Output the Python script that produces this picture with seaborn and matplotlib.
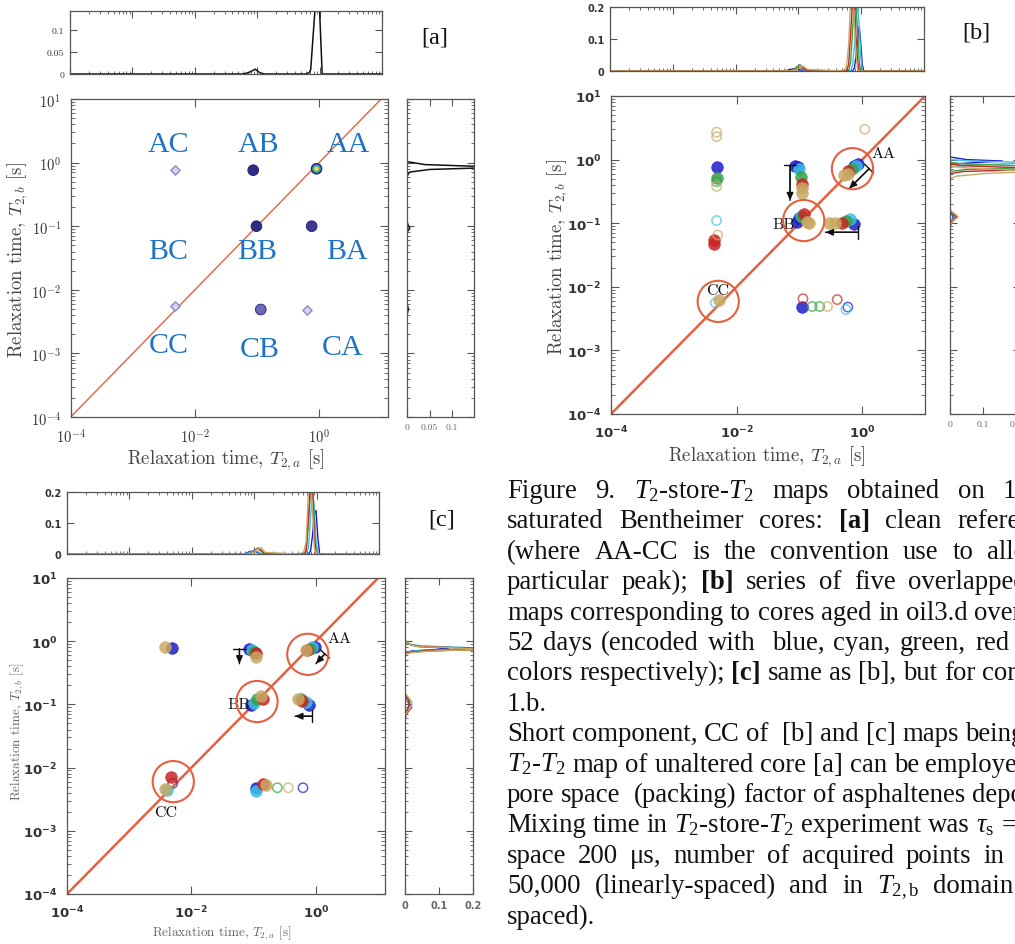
import numpy as np
import pandas as pd
import matplotlib
matplotlib.use("Agg")
import matplotlib.pyplot as plt
from matplotlib.ticker import FixedLocator, LogLocator, NullLocator, NullFormatter, FuncFormatter
import seaborn as sns

W, H = 1015, 945

# ---------------- data ----------------
# five ageing stages: blue, cyan, green, red, yellow
codes = ["b", "c", "g", "r", "y"]
pal = {"b": "#1d1dc8", "c": "#3cc2e6", "g": "#36a244", "r": "#c82424", "y": "#c9a964"}
diag = [1e-4, 1e1]

# [a] clean reference core
a_peak = ["AC", "AB", "AA", "BB", "BA", "CC", "CB", "CA"]
a_t2a = [4.8e-3, 0.087, 0.91, 0.098, 0.76, 4.8e-3, 0.115, 0.63]
a_t2b = [0.76, 0.76, 0.80, 0.10, 0.10, 5.6e-3, 4.9e-3, 4.9e-3]
a_amp = [0.3, 0.75, 1.0, 0.75, 0.7, 0.15, 0.5, 0.3]
a_region = ["AC", "AB", "AA", "BC", "BB", "BA", "CC", "CB", "CA"]

a_top_t2 = [1e-4, 0.06, 0.075, 0.093, 0.11, 0.13, 0.6, 0.68, 0.72, 0.84, 0.9, 0.96, 1.0, 1.1, 10]
a_top_amp = [0, 0, 0.004, 0.011, 0.003, 0, 0, 0.003, 0.01, 0.144, 0.25, 0.2, 0.144, 0, 0]
a_right_t2 = [1e-4, 4e-3, 5e-3, 6e-3, 0.08, 0.095, 0.105, 0.12, 0.6, 0.65, 0.71, 0.78, 0.82, 0.85,
              0.875, 0.93, 1.0, 1.03, 1.08, 10]
a_right_amp = [0, 0, 0.003, 0, 0, 0.006, 0.002, 0, 0, 0.002, 0.006, 0.05, 0.15, 0.3,
               0.15, 0.04, 0.013, 0.002, 0, 0]

# [b] cores aged in oil3.d
b_code = ["y", "y", "b", "g", "g", "y", "c", "y", "r", "r",
          "b", "b", "c", "g", "r", "y", "y",
          "b", "b", "c", "g", "r", "y", "y",
          "b", "b", "c", "g", "r", "y", "y",
          "y", "y", "r", "g", "c", "b",
          "y", "c", "y",
          "r", "b", "g", "g", "y", "r", "b", "c"]
b_t2a = [4.8e-3, 4.8e-3, 4.8e-3, 4.8e-3, 4.8e-3, 4.8e-3, 4.8e-3, 5.0e-3, 4.3e-3, 4.3e-3,
         0.085, 0.095, 0.1, 0.105, 0.11, 0.11, 0.11,
         0.85, 0.75, 0.8, 0.68, 0.6, 0.52, 0.6,
         0.09, 0.1, 0.105, 0.11, 0.12, 0.13, 0.14,
         0.3, 0.37, 0.48, 0.55, 0.65, 0.75,
         1.1, 4.6e-3, 5.3e-3,
         0.114, 0.11, 0.16, 0.21, 0.28, 0.4, 0.59, 0.55]
b_t2b = [2.7, 2.3, 0.76, 0.52, 0.45, 0.38, 0.11, 0.065, 0.055, 0.047,
         0.78, 0.76, 0.72, 0.53, 0.42, 0.36, 0.3,
         0.85, 0.8, 0.78, 0.72, 0.65, 0.57, 0.6,
         0.105, 0.12, 0.13, 0.125, 0.14, 0.105, 0.1,
         0.1, 0.1, 0.1, 0.11, 0.115, 0.098,
         3.0, 5.6e-3, 6.2e-3,
         6.5e-3, 4.8e-3, 4.9e-3, 4.9e-3, 4.9e-3, 6.3e-3, 4.8e-3, 4.4e-3]
b_amp = [0.3, 0.3, 1, 1, 0.3, 0.3, 0.3, 0.3, 1, 1,
         1, 1, 1, 1, 1, 1, 1,
         1, 1, 1, 1, 1, 1, 1,
         1, 1, 1, 1, 1, 1, 1,
         1, 1, 1, 1, 1, 1,
         0.3, 0.3, 0.6,
         0.3, 1, 0.3, 0.3, 0.3, 0.3, 0.3, 0.3]
b_circ_t2a = [0.70, 0.117, 5.1e-3]
b_circ_t2b = [0.72, 0.11, 5.9e-3]

b_top_t2 = [1e-4, 0.06, 0.075, 0.09, 0.105, 0.12, 0.14, 0.5, 0.58, 0.63, 0.68, 0.73, 0.78, 0.83,
            0.88, 0.93, 0.98, 1.04, 1.1, 10]
b_top_blue = [0, 0, 0.005, 0.008, 0.004, 0, 0, 0, 0, 0, 0, 0, 0.01, 0.05, 0.1, 0.14, 0.09, 0.02, 0, 0]
b_top_cyan = [0, 0, 0, 0.006, 0.01, 0.004, 0, 0, 0, 0, 0, 0.02, 0.08, 0.17, 0.21, 0.14, 0.05, 0, 0, 0]
b_top_green = [0, 0, 0, 0.01, 0.02, 0.01, 0, 0, 0, 0, 0.03, 0.13, 0.22, 0.2, 0.12, 0.03, 0, 0, 0, 0]
b_top_red = [0, 0, 0, 0.005, 0.012, 0.008, 0, 0, 0, 0.02, 0.12, 0.22, 0.22, 0.1, 0.03, 0, 0, 0, 0, 0]
b_top_yellow = [0, 0, 0, 0.004, 0.01, 0.015, 0.005, 0, 0.01, 0.08, 0.22, 0.25, 0.15, 0.05, 0, 0, 0, 0, 0, 0]

b_right_t2 = [1e-4, 0.09, 0.11, 0.125, 0.14, 0.16, 0.4, 0.5, 0.55, 0.6, 0.65, 0.7, 0.75, 0.8,
              0.85, 0.9, 0.95, 1.0, 1.1, 10]
b_right_blue = [0, 0, 0.005, 0.01, 0.005, 0, 0, 0, 0, 0, 0, 0, 0, 0, 0.01, 0.08, 0.16, 0.05, 0, 0]
b_right_cyan = [0, 0, 0.005, 0.015, 0.008, 0, 0, 0, 0, 0, 0, 0, 0, 0.03, 0.15, 0.25, 0.06, 0, 0, 0]
b_right_green = [0, 0, 0.01, 0.02, 0.01, 0, 0, 0, 0, 0, 0, 0.05, 0.25, 0.22, 0.05, 0, 0, 0, 0, 0]
b_right_red = [0, 0, 0.008, 0.02, 0.01, 0, 0, 0, 0, 0, 0.04, 0.25, 0.2, 0.04, 0, 0, 0, 0, 0, 0]
b_right_yellow = [0, 0, 0.01, 0.025, 0.015, 0, 0, 0, 0.02, 0.1, 0.25, 0.15, 0.03, 0, 0, 0, 0, 0, 0, 0]

# [c] cores of the second series
c_code = ["y", "b",
          "b", "c", "g", "r", "y",
          "b", "c", "g", "r", "y",
          "b", "c", "g", "r", "y",
          "y", "g", "r", "c", "b",
          "r", "y", "c", "b",
          "b", "c", "r", "y", "g", "y", "b"]
c_t2a = [3.7e-3, 4.8e-3,
         0.085, 0.095, 0.1, 0.11, 0.11,
         0.96, 0.88, 0.8, 0.72, 0.68,
         0.09, 0.1, 0.115, 0.14, 0.13,
         0.52, 0.57, 0.6, 0.68, 0.78,
         4.7e-3, 3.7e-3, 4.0e-3, 5.0e-3,
         0.11, 0.11, 0.14, 0.16, 0.24, 0.36, 0.62]
c_t2b = [0.8, 0.77,
         0.76, 0.72, 0.68, 0.64, 0.57,
         0.82, 0.8, 0.76, 0.72, 0.72,
         0.097, 0.105, 0.12, 0.12, 0.135,
         0.12, 0.12, 0.115, 0.11, 0.097,
         7.2e-3, 4.6e-3, 4.4e-3, 5.6e-3,
         4.8e-3, 4.3e-3, 5.6e-3, 5.3e-3, 4.8e-3, 4.8e-3, 4.8e-3]
c_amp = [0.6, 1,
         1, 1, 1, 1, 1,
         1, 1, 1, 1, 1,
         1, 1, 1, 1, 1,
         1, 1, 1, 1, 1,
         1, 0.6, 0.6, 0.3,
         1, 1, 1, 1, 0.3, 0.3, 0.3]
c_circ_t2a = [0.74, 0.113, 5.1e-3]
c_circ_t2b = [0.62, 0.111, 6.0e-3]

c_top_t2 = [1e-4, 0.07, 0.085, 0.1, 0.115, 0.13, 0.15, 0.5, 0.62, 0.68, 0.74, 0.8, 0.86, 0.92,
            0.98, 1.05, 1.12, 1.2, 10]
c_top_blue = [0, 0, 0.008, 0.01, 0.004, 0, 0, 0, 0, 0, 0, 0.01, 0.06, 0.13, 0.14, 0.05, 0, 0, 0]
c_top_cyan = [0, 0, 0.005, 0.012, 0.008, 0, 0, 0, 0, 0, 0.02, 0.12, 0.2, 0.15, 0.04, 0, 0, 0, 0]
c_top_green = [0, 0, 0, 0.01, 0.018, 0.008, 0, 0, 0, 0.01, 0.1, 0.22, 0.23, 0.1, 0, 0, 0, 0, 0]
c_top_red = [0, 0, 0, 0.008, 0.02, 0.012, 0, 0, 0, 0.01, 0.12, 0.22, 0.2, 0.05, 0, 0, 0, 0, 0]
c_top_yellow = [0, 0, 0, 0.006, 0.018, 0.02, 0.005, 0, 0.005, 0.04, 0.2, 0.24, 0.15, 0.02, 0, 0, 0, 0, 0]

c_right_t2 = [1e-4, 0.06, 0.075, 0.09, 0.11, 0.13, 0.15, 0.5, 0.62, 0.66, 0.7, 0.74, 0.78, 0.82,
              0.87, 0.93, 0.98, 1.05, 10]
c_right_blue = [0, 0, 0.008, 0.02, 0.008, 0, 0, 0, 0, 0, 0.02, 0.09, 0.13, 0.06, 0.02, 0.005, 0, 0, 0]
c_right_cyan = [0, 0, 0.005, 0.012, 0.01, 0, 0, 0, 0, 0, 0.03, 0.15, 0.22, 0.1, 0.02, 0.005, 0, 0, 0]
c_right_green = [0, 0, 0.004, 0.01, 0.015, 0.005, 0, 0, 0, 0.01, 0.05, 0.22, 0.2, 0.05, 0.02, 0.01, 0.005, 0, 0]
c_right_red = [0, 0, 0.004, 0.01, 0.012, 0.006, 0, 0, 0, 0.01, 0.06, 0.22, 0.18, 0.04, 0.02, 0.01, 0, 0, 0]
c_right_yellow = [0, 0, 0.006, 0.018, 0.02, 0.01, 0, 0, 0, 0.02, 0.08, 0.22, 0.16, 0.04, 0.02, 0.01, 0, 0, 0]

# caption lines; number = x where the last word of a justified line starts
caption = [
    ("Figure 9. $T_2$-store-$T_2$ maps obtained on 1", 1003),
    ("saturated Bentheimer cores: **[a]** clean reference", 957),
    ("(where AA-CC is the convention use to allocate", 987),
    ("particular peak); **[b]** series of five overlapped", 908),
    ("maps corresponding to cores aged in oil3.d over", None),
    ("52 days (encoded with  blue, cyan, green, red", 975),
    ("colors respectively); **[c]** same as [b], but for cores", None),
    ("1.b.", None),
    ("Short component, CC of  [b] and [c] maps being", None),
    ("$T_2$-$T_2$ map of unaltered core [a] can be employed", None),
    ("pore space  (packing) factor of asphaltenes deposit", None),
    ("Mixing time in $T_2$-store-$T_2$ experiment was $\\tau_\\mathrm{s}$ = 1", None),
    ("space 200 \u03bcs, number of acquired points in", 983),
    ("50,000 (linearly-spaced) and in $T_\\mathrm{2,b}$ domain", 933),
    ("spaced).", None),
]

# ---------------- style ----------------
sns.set_style("ticks")
plt.rcParams["font.family"] = ["DejaVu Sans"]
plt.rcParams["mathtext.fontset"] = "cm"
plt.rcParams["mathtext.rm"] = "Liberation Serif"
plt.rcParams["mathtext.it"] = "Liberation Serif:italic"
plt.rcParams["mathtext.bf"] = "Liberation Serif:bold"
plt.rcParams["axes.edgecolor"] = "#555555"
plt.rcParams["axes.linewidth"] = 0.9
plt.rcParams["xtick.color"] = "#555555"
plt.rcParams["ytick.color"] = "#555555"

DIAG = "#e5603f"
fig = plt.figure(figsize=(W / 100, H / 100), dpi=100)


def px_axes(l, t, r, b):
    return fig.add_axes([l / W, 1 - b / H, (r - l) / W, (b - t) / H])


def log_fmt(sans):
    if sans:
        return FuncFormatter(lambda v, p: r"$\mathdefault{10^{%d}}$" % round(np.log10(v)))
    return FuncFormatter(lambda v, p: r"$10^{%d}$" % round(np.log10(v)))


def minor_loc():
    return LogLocator(base=10, subs=np.arange(2, 10), numticks=30)


def style_main(ax, xmax, sans, fs):
    ax.set(xscale="log", yscale="log", xlim=(1e-4, xmax), ylim=(1e-4, 1e1))
    ax.xaxis.set_major_locator(FixedLocator([1e-4, 1e-2, 1e0]))
    ax.xaxis.set_minor_locator(NullLocator())
    ax.yaxis.set_major_locator(FixedLocator([1e-4, 1e-3, 1e-2, 1e-1, 1e0, 1e1]))
    ax.yaxis.set_minor_locator(minor_loc())
    ax.yaxis.set_minor_formatter(NullFormatter())
    ax.xaxis.set_major_formatter(log_fmt(sans))
    ax.yaxis.set_major_formatter(log_fmt(sans))
    ax.tick_params(which="both", direction="in", top=True, right=True)
    ax.tick_params(which="major", length=6, labelsize=fs, pad=7, labelcolor="#333333")
    ax.tick_params(which="minor", length=3)
    if sans:
        plt.setp(ax.get_xticklabels() + ax.get_yticklabels(), fontweight="bold")


def style_top(ax, ymax, ticks, labels, font):
    ax.set(xscale="log", xlim=(1e-4, 1e1), ylim=(0, ymax), xlabel="", ylabel="")
    ax.xaxis.set_major_locator(FixedLocator([1e-4, 1e-3, 1e-2, 1e-1, 1e0, 1e1]))
    ax.xaxis.set_minor_locator(minor_loc())
    ax.xaxis.set_major_formatter(NullFormatter())
    ax.xaxis.set_minor_formatter(NullFormatter())
    ax.set_yticks(ticks)
    ax.set_yticklabels(labels, **font)
    ax.tick_params(which="both", direction="in", top=True, right=True)
    ax.tick_params(which="major", length=5, labelsize=7, pad=4, labelcolor="#333333")
    ax.tick_params(which="minor", length=2.5)


def style_right(ax, xmax, ticks, labels, font):
    ax.set(yscale="log", ylim=(1e-4, 1e1), xlim=(0, xmax), xlabel="", ylabel="")
    ax.yaxis.set_major_locator(FixedLocator([1e-4, 1e-3, 1e-2, 1e-1, 1e0, 1e1]))
    ax.yaxis.set_minor_locator(minor_loc())
    ax.yaxis.set_major_formatter(NullFormatter())
    ax.yaxis.set_minor_formatter(NullFormatter())
    ax.set_xticks(ticks)
    ax.set_xticklabels(labels, **font)
    ax.tick_params(which="both", direction="in", top=True, right=True)
    ax.tick_params(which="major", length=5, labelsize=7, pad=4, labelcolor="#666666")
    ax.tick_params(which="minor", length=2.5)


def spectra(t2, curves):
    rows = []
    for code, vals in zip(codes, curves):
        rows.append(pd.DataFrame({"t2": t2, "amp": vals, "series": code}))
    return pd.concat(rows, ignore_index=True)


def draw_map(ax, df, circ_x, circ_y):
    sns.lineplot(x=diag, y=diag, color=DIAG, lw=1.8, ax=ax)
    for code in codes:
        sub = df[df.series == code]
        solid = sub[sub.amp >= 0.5]
        faint = sub[sub.amp < 0.5]
        if len(solid):
            sns.scatterplot(data=solid, x="t2a", y="t2b", color=pal[code], s=70, marker="o",
                            edgecolor=pal[code], linewidth=0.5, alpha=0.85, ax=ax, zorder=3)
        if len(faint):
            sns.scatterplot(data=faint, x="t2a", y="t2b", color=pal[code], facecolor="none",
                            edgecolor=pal[code], s=45, marker="o", linewidth=1.1, alpha=0.7,
                            ax=ax, zorder=3)
    sns.scatterplot(x=circ_x, y=circ_y, s=880, marker="o", facecolor="none", color=DIAG,
                    edgecolor=DIAG, linewidth=1.5, ax=ax, zorder=4)


def arrow(ax, tail, head):
    ax.annotate("", xy=head, xytext=tail,
                arrowprops=dict(arrowstyle="-|>,head_length=0.45,head_width=0.2",
                                color="#111111", lw=1.0, shrinkA=0, shrinkB=0))
    ax.annotate("", xy=head, xytext=tail,
                arrowprops=dict(arrowstyle="]-,widthA=0.45,lengthA=0",
                                color="#111111", lw=1.0, shrinkA=0, shrinkB=0))


def axis_labels(ax, fs, xc, yc, color):
    ax.set_xlabel(r"Relaxation time, $T_{2,a}$ [s]", fontfamily="cmr10", fontsize=fs, color=color)
    ax.set_ylabel(r"Relaxation time, $T_{2,b}$ [s]", fontfamily="cmr10", fontsize=fs, color=color)
    ax.xaxis.set_label_coords(*xc)
    ax.yaxis.set_label_coords(*yc)
    ax.xaxis.label.set_va("center")
    ax.yaxis.label.set_va("center")


cm_font = dict(fontfamily="cmr10")
sans_font = dict(fontfamily="DejaVu Sans", fontweight="bold")

# ================= [a] =================
ax = px_axes(70.7, 100, 388, 418)
a_df = pd.DataFrame({"peak": a_peak, "t2a": a_t2a, "t2b": a_t2b, "amp": a_amp})
sns.lineplot(x=diag, y=diag, color=DIAG, lw=1.0, ax=ax)
cmap = sns.blend_palette(["#d4d2f0", "#8583c8", "#23207c"], as_cmap=True)
strong = a_df[a_df.amp >= 0.35]
weak = a_df[a_df.amp < 0.35]
sns.scatterplot(data=strong, x="t2a", y="t2b", hue="amp", palette=cmap, hue_norm=(0, 0.8),
                s=60, marker="o", edgecolor="#23207c", linewidth=0.6, legend=False, ax=ax, zorder=3)
sns.scatterplot(data=weak, x="t2a", y="t2b", color="#8a88c8", facecolor="#d8d6f2",
                edgecolor="#8a88c8", s=22, marker="D", linewidth=1.0, ax=ax, zorder=3)
top = a_df[a_df.amp >= 0.95]
sns.scatterplot(data=top, x="t2a", y="t2b", color="#2f9fb8", s=40, edgecolor="none", ax=ax, zorder=4)
sns.scatterplot(data=top, x="t2a", y="t2b", color="#e6dc3a", s=12, edgecolor="none", ax=ax, zorder=5)
style_main(ax, 10 ** 1.11, False, 10.5)
axis_labels(ax, 13.5, (0.49, -0.132), (-0.166, 0.497), "#444444")
region_xy = [(0.308, 0.859), (0.592, 0.859), (0.876, 0.859),
             (0.308, 0.521), (0.587, 0.521), (0.871, 0.521),
             (0.308, 0.225), (0.595, 0.213), (0.858, 0.220)]
for lab, (rx, ry) in zip(a_region, region_xy):
    ax.text(rx, ry, lab, transform=ax.transAxes, ha="center", va="center",
            fontsize=21.5, family="Liberation Serif", color="#1f73c3")

ax = px_axes(70, 12, 382, 75)
sns.lineplot(x=a_top_t2, y=a_top_amp, sort=False, estimator=None, color="#111111", lw=1.1, ax=ax)
style_top(ax, 0.144, [0, 0.05, 0.1], ["0", "0.05", "0.1"], cm_font)

ax = px_axes(407, 100, 474, 418)
sns.lineplot(x=a_right_amp, y=a_right_t2, sort=False, estimator=None, color="#111111", lw=1.1, ax=ax)
style_right(ax, 0.148, [0, 0.05, 0.1], ["0", "0.05", "0.1"], cm_font)

# ================= [b] =================
ax = px_axes(611, 97, 925, 415)
b_df = pd.DataFrame({"series": b_code, "t2a": b_t2a, "t2b": b_t2b, "amp": b_amp})
draw_map(ax, b_df, b_circ_t2a, b_circ_t2b)
style_main(ax, 1e1, True, 9.5)
axis_labels(ax, 13.5, (0.497, -0.132), (-0.169, 0.497), "#444444")
arrow(ax, (0.071, 0.81), (0.071, 0.228))
arrow(ax, (0.87, 0.072), (0.26, 0.072))
arrow(ax, (1.29, 0.72), (0.62, 0.35))
for lab, lx, ly in [("AA", 2.2, 1.28), ("BB", 0.0556, 0.095), ("CC", 5.0e-3, 8.9e-3)]:
    ax.text(lx, ly, lab, ha="center", va="center", fontsize=11.5, family="cmr10", color="#111111")

ax = px_axes(610, 8, 924, 72)
bt = spectra(b_top_t2, [b_top_blue, b_top_cyan, b_top_green, b_top_red, b_top_yellow])
sns.lineplot(data=bt, x="t2", y="amp", hue="series", palette=pal, sort=False, estimator=None,
             lw=1.0, legend=False, ax=ax)
style_top(ax, 0.2, [0, 0.1, 0.2], ["0", "0.1", "0.2"], sans_font)

ax = px_axes(950, 97, 1020, 415)
br = spectra(b_right_t2, [b_right_blue, b_right_cyan, b_right_green, b_right_red, b_right_yellow])
sns.lineplot(data=br, x="amp", y="t2", hue="series", palette=pal, sort=False, estimator=None,
             lw=1.0, legend=False, ax=ax)
style_right(ax, 0.213, [0, 0.1, 0.2], ["0", "0.1", "0.2"], cm_font)

# ================= [c] =================
ax = px_axes(67, 579, 385, 895)
c_df = pd.DataFrame({"series": c_code, "t2a": c_t2a, "t2b": c_t2b, "amp": c_amp})
draw_map(ax, c_df, c_circ_t2a, c_circ_t2b)
style_main(ax, 10 ** 1.11, True, 9.5)
axis_labels(ax, 9.5, (0.487, -0.12), (-0.158, 0.516), "#666666")
arrow(ax, (0.059, 0.76), (0.059, 0.44))
arrow(ax, (0.85, 0.065), (0.46, 0.065))
arrow(ax, (1.39, 0.63), (1.0, 0.44))
for lab, lx, ly in [("AA", 2.37, 1.13), ("BB", 0.057, 0.1), ("CC", 3.8e-3, 2.0e-3)]:
    ax.text(lx, ly, lab, ha="center", va="center", fontsize=11.5, family="cmr10", color="#111111")

ax = px_axes(67, 493, 379, 555)
ct = spectra(c_top_t2, [c_top_blue, c_top_cyan, c_top_green, c_top_red, c_top_yellow])
sns.lineplot(data=ct, x="t2", y="amp", hue="series", palette=pal, sort=False, estimator=None,
             lw=1.0, legend=False, ax=ax)
style_top(ax, 0.2, [0, 0.1, 0.2], ["0", "0.1", "0.2"], sans_font)

ax = px_axes(405, 579, 473, 895)
cr = spectra(c_right_t2, [c_right_blue, c_right_cyan, c_right_green, c_right_red, c_right_yellow])
sns.lineplot(data=cr, x="amp", y="t2", hue="series", palette=pal, sort=False, estimator=None,
             lw=1.0, legend=False, ax=ax)
style_right(ax, 0.2, [0, 0.1, 0.2], ["0", "0.1", "0.2"], sans_font)

# ---------------- panel tags ----------------
for tag, tx, ty in [("[a]", 435, 38), ("[b]", 976, 33), ("[c]", 442, 520)]:
    fig.text(tx / W, 1 - ty / H, tag, ha="center", va="center", fontsize=17.5,
             family="Liberation Serif", color="#111111")

# ---------------- caption (justified where the original is) ----------------
renderer = fig.canvas.get_renderer()
x0, base0, step, fs = 507, 498, 30.4, 19.3
space = fs * 100 / 72 * 0.25
for i, (line, x_last) in enumerate(caption):
    y = 1 - (base0 + i * step) / H
    words, extra = [], 0
    for tok in line.split(" "):
        if tok == "":
            extra += 1
            continue
        words.append((tok.strip("*"), tok.startswith("**"), extra))
        extra = 0
    arts = [fig.text(0, y, w, fontsize=fs, family="Liberation Serif",
                     fontweight="bold" if bold else "normal", math_fontfamily="custom",
                     va="baseline", color="#111111") for w, bold, e in words]
    widths = [a.get_window_extent(renderer).width for a in arts]
    extras = sum(e for _, _, e in words)
    if x_last is not None and len(words) > 1:
        gap = (x_last - x0 - sum(widths[:-1]) - extras * space) / (len(words) - 1)
    else:
        gap = space
    x = x0
    for (w, bold, e), a, wd in zip(words, arts, widths):
        x += e * space
        a.set_x(x / W)
        x += wd + gap

fig.savefig("out.png", dpi=100)
